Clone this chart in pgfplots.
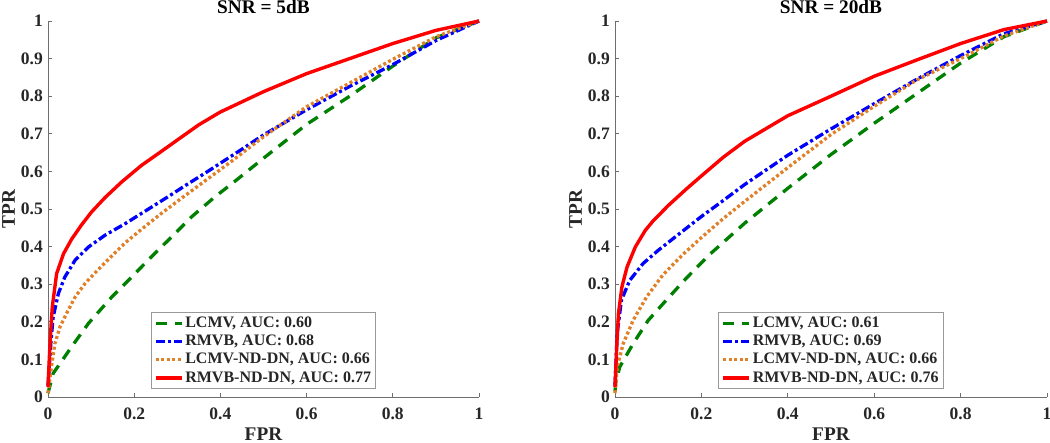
\documentclass[border=0pt]{standalone}
\usepackage{fontspec}
\setmainfont{Liberation Serif}
\usepackage{pgfplots}
\pgfplotsset{compat=1.18}
\definecolor{mgreen}{RGB}{0,128,0}
\definecolor{morange}{RGB}{224,128,40}
\definecolor{axgray}{RGB}{110,110,110}
\definecolor{txt}{RGB}{38,38,38}

\pgfplotsset{
  rocstyle/.style={
    scale only axis, width=431pt, height=376pt,
    xmin=0, xmax=1, ymin=0, ymax=1,
    xtick={0,0.2,0.4,0.6,0.8,1},
    ytick={0,0.1,0.2,0.3,0.4,0.5,0.6,0.7,0.8,0.9,1},
    axis x line*=bottom, axis y line*=left,
    axis line style={-, axgray, line width=0.7pt},
    tick style={axgray, line width=0.7pt},
    tick align=inside, major tick length=4pt,
    /pgf/number format/assume math mode=true,
    tick label style={font=\fontsize{17.5}{20}\selectfont\bfseries, text=txt, inner sep=0pt},
    xticklabel style={yshift=-11pt},
    yticklabel style={xshift=-5pt},
    every axis title/.style={at={(axis description cs:0.5,1.0186)}, anchor=base,
      font=\fontsize{19.3}{22}\selectfont\bfseries, text=black},
    xlabel style={at={(axis description cs:0.5,-0.1150)}, anchor=base, inner sep=0pt,
      font=\fontsize{19.3}{22}\selectfont\bfseries, text=txt},
    ylabel style={at={(axis description cs:-0.0766,0.5)}, anchor=base, inner sep=0pt,
      font=\fontsize{19.3}{22}\selectfont\bfseries, text=txt},
    clip=false,
    legend style={at={(axis description cs:0.5,0.021)}, anchor=south,
      draw=black!40, line width=0.7pt, fill=white,
      font=\fontsize{16}{18}\selectfont\bfseries, text=txt,
      inner xsep=3pt, inner ysep=1.5pt, row sep=0pt, column sep=0pt,
      nodes={inner sep=1.7pt, text height=11.5pt, text depth=3.4pt}},
    legend cell align=left,
    legend image code/.code={\draw[##1] (0pt,0pt) -- (26pt,0pt);},
  },
  gline/.style={mgreen, line width=3.3pt, dash pattern=on 11pt off 8pt},
  bline/.style={blue, line width=3.3pt, dash pattern=on 9pt off 3pt on 3pt off 3pt},
  oline/.style={morange, line width=3.3pt, dash pattern=on 3pt off 2.5pt},
  rline/.style={red, line width=3.4pt, line join=round},
}

\begin{document}
\begin{tikzpicture}
\path[use as bounding box] (0,0) rectangle (1050pt,443pt);

\begin{axis}[rocstyle, at={(48pt,46pt)}, anchor=south west,
  title={SNR = 5dB}, xlabel={FPR}, ylabel={TPR}]
\addplot[gline] coordinates {(0,0.01) (0.012,0.063) (0.028,0.089) (0.055,0.134) (0.094,0.196) (0.148,0.266) (0.194,0.319) (0.24,0.373) (0.287,0.426) (0.333,0.479) (0.387,0.532) (0.434,0.574) (0.5,0.635) (0.6,0.725) (0.7,0.80) (0.8,0.88) (0.9,0.955) (1,1)};
\addlegendentry{LCMV, AUC: 0.60}
\addplot[bline] coordinates {(0,0.03) (0.002,0.063) (0.007,0.151) (0.012,0.213) (0.024,0.275) (0.039,0.319) (0.063,0.364) (0.094,0.399) (0.132,0.43) (0.179,0.461) (0.225,0.494) (0.279,0.533) (0.318,0.562) (0.364,0.595) (0.411,0.63) (0.45,0.659) (0.5,0.697) (0.6,0.764) (0.7,0.826) (0.8,0.884) (0.9,0.948) (1,1)};
\addlegendentry{RMVB, AUC: 0.68}
\addplot[oline] coordinates {(0,0.01) (0.002,0.027) (0.009,0.089) (0.016,0.142) (0.028,0.187) (0.043,0.222) (0.063,0.266) (0.086,0.302) (0.109,0.33) (0.14,0.366) (0.179,0.41) (0.217,0.446) (0.256,0.482) (0.302,0.522) (0.341,0.555) (0.38,0.588) (0.426,0.627) (0.46,0.657) (0.5,0.692) (0.6,0.772) (0.7,0.835) (0.8,0.898) (0.9,0.958) (1,1)};
\addlegendentry{LCMV-ND-DN, AUC: 0.66}
\addplot[rline] coordinates {(0,0.027) (0.005,0.151) (0.01,0.24) (0.02,0.328) (0.036,0.381) (0.055,0.42) (0.078,0.458) (0.101,0.492) (0.132,0.53) (0.171,0.572) (0.217,0.616) (0.264,0.654) (0.302,0.685) (0.35,0.724) (0.4,0.758) (0.5,0.812) (0.6,0.86) (0.7,0.90) (0.8,0.94) (0.9,0.975) (1,1)};
\addlegendentry{RMVB-ND-DN, AUC: 0.77}
\end{axis}

\begin{axis}[rocstyle, at={(615pt,46pt)}, anchor=south west, width=432pt,
  title={SNR = 20dB}, xlabel={FPR}, ylabel={TPR}]
\addplot[gline] coordinates {(0,0.015) (0.002,0.04) (0.011,0.08) (0.042,0.142) (0.077,0.204) (0.119,0.258) (0.165,0.316) (0.22,0.38) (0.3,0.462) (0.4,0.555) (0.5,0.645) (0.6,0.728) (0.7,0.808) (0.8,0.888) (0.9,0.958) (1,1)};
\addlegendentry{LCMV, AUC: 0.61}
\addplot[bline] coordinates {(0,0.03) (0.005,0.17) (0.015,0.258) (0.034,0.31) (0.065,0.355) (0.1,0.39) (0.142,0.428) (0.2,0.48) (0.25,0.522) (0.3,0.565) (0.4,0.643) (0.5,0.713) (0.6,0.78) (0.7,0.846) (0.8,0.908) (0.9,0.966) (1,1)};
\addlegendentry{RMVB, AUC: 0.69}
\addplot[oline] coordinates {(0,0.01) (0.005,0.08) (0.019,0.142) (0.042,0.204) (0.073,0.266) (0.111,0.325) (0.158,0.38) (0.2,0.424) (0.25,0.474) (0.3,0.52) (0.4,0.61) (0.5,0.698) (0.6,0.773) (0.7,0.844) (0.8,0.90) (0.9,0.96) (1,1)};
\addlegendentry{LCMV-ND-DN, AUC: 0.66}
\addplot[rline] coordinates {(0,0.027) (0.004,0.134) (0.008,0.222) (0.016,0.293) (0.028,0.346) (0.047,0.399) (0.07,0.443) (0.088,0.468) (0.124,0.51) (0.165,0.553) (0.2,0.588) (0.25,0.637) (0.3,0.68) (0.4,0.748) (0.5,0.80) (0.6,0.853) (0.7,0.897) (0.8,0.94) (0.9,0.977) (1,1)};
\addlegendentry{RMVB-ND-DN, AUC: 0.76}
\end{axis}
\end{tikzpicture}
\end{document}
